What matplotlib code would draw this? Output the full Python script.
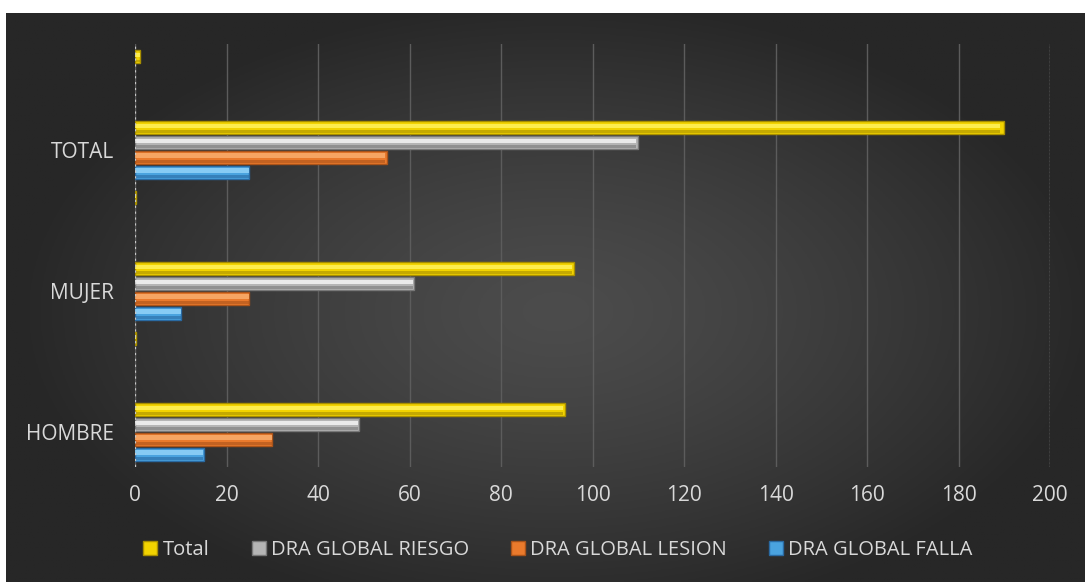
import numpy as np
import matplotlib
matplotlib.use("Agg")
import matplotlib.pyplot as plt
from matplotlib.lines import Line2D

plt.rcParams['font.family'] = ['Open Sans', 'DejaVu Sans']

# data
categories = ['HOMBRE', '', 'MUJER', '', 'TOTAL', '']
series_names = ['Total', 'DRA GLOBAL RIESGO', 'DRA GLOBAL LESION', 'DRA GLOBAL FALLA']
total = [94, 0.2, 96, 0.2, 190, 1]
riesgo = [49, 0, 61, 0, 110, 0]
lesion = [30, 0, 25, 0, 55, 0]
falla = [15, 0, 10, 0, 25, 0]
x_ticks = [0, 20, 40, 60, 80, 100, 120, 140, 160, 180, 200]

# base, highlight, dark edge
colors = [
    ('#f2d300', '#fff25c', '#a88f00'),
    ('#b5b5b5', '#f4f4f4', '#787878'),
    ('#ea7a2c', '#f9ad6e', '#a9531a'),
    ('#4aa3df', '#92d3f8', '#2a6aa2'),
]
offsets = [0.319, 0.106, -0.106, -0.319]
bar_h = 0.18

W, H = 1085, 582
fig = plt.figure(figsize=(W / 100, H / 100), dpi=100)

# dark radial background with white strip on top/left
bg = fig.add_axes([6 / W, 0, 1 - 6 / W, (H - 13) / H])
gx, gy = np.meshgrid(np.linspace(-1, 1, 400), np.linspace(-1, 1, 220))
r = np.sqrt(((gx - 0.02) / 1.0) ** 2 + ((gy - 0.05) / 1.1) ** 2)
r = np.clip(r, 0, 1)
light, dark = 0x4c / 255, 0x27 / 255
shade = light - (light - dark) * r ** 1.3
bg.imshow(np.dstack([shade] * 3), aspect='auto', extent=[0, 1, 0, 1])
bg.axis('off')

ax = fig.add_axes([135 / W, (H - 467) / H, 915 / W, 423 / H])
ax.patch.set_alpha(0)

y = np.arange(len(categories))
data = [total, riesgo, lesion, falla]
for vals, off, (base, hi, edge) in zip(data, offsets, colors):
    vals = np.array(vals, dtype=float)
    lw = [1.0 if v > 0 else 0 for v in vals]
    ax.barh(y + off, vals, height=bar_h, color=base, edgecolor=edge, linewidth=lw, zorder=3)
    # bevel highlight in the upper part of the bar
    ax.barh(y + off + bar_h * 0.12, vals * 0.995, height=bar_h * 0.35,
            color=hi, linewidth=0, zorder=4, alpha=0.85)
    ax.barh(y + off - bar_h * 0.32, vals * 0.995, height=bar_h * 0.2,
            color=edge, linewidth=0, zorder=4, alpha=0.6)

ax.set_xlim(0, 200)
ax.set_ylim(-0.5, len(categories) - 0.5)
ax.set_xticks(x_ticks)
ax.set_yticks([0, 2, 4])
ax.set_yticklabels([categories[i] for i in [0, 2, 4]])
ax.tick_params(axis='both', length=0, colors='#d9d9d9', labelsize=15)
ax.tick_params(axis='y', pad=15)
ax.tick_params(axis='x', pad=13)
ax.grid(axis='x', color='#5c5c5c', linewidth=1, zorder=0)
for s in ax.spines.values():
    s.set_visible(False)
ax.axvline(0, color='#c8c8c8', linestyle=':', linewidth=1.6, zorder=5)
ax.axvline(200, color='#8a8a8a', linestyle=':', linewidth=1.0, zorder=1)

handles = [Line2D([], [], marker='s', linestyle='none', markersize=10,
                  markerfacecolor=c[0], markeredgecolor=c[2]) for c in colors]
leg = fig.legend(handles, series_names, loc='center', bbox_to_anchor=(0.513, (H - 550) / H),
                 ncol=4, frameon=False, fontsize=14.5, handletextpad=0.1,
                 columnspacing=1.95, handlelength=1.0)
for t in leg.get_texts():
    t.set_color('#d9d9d9')

fig.savefig('out.png', dpi=100)
